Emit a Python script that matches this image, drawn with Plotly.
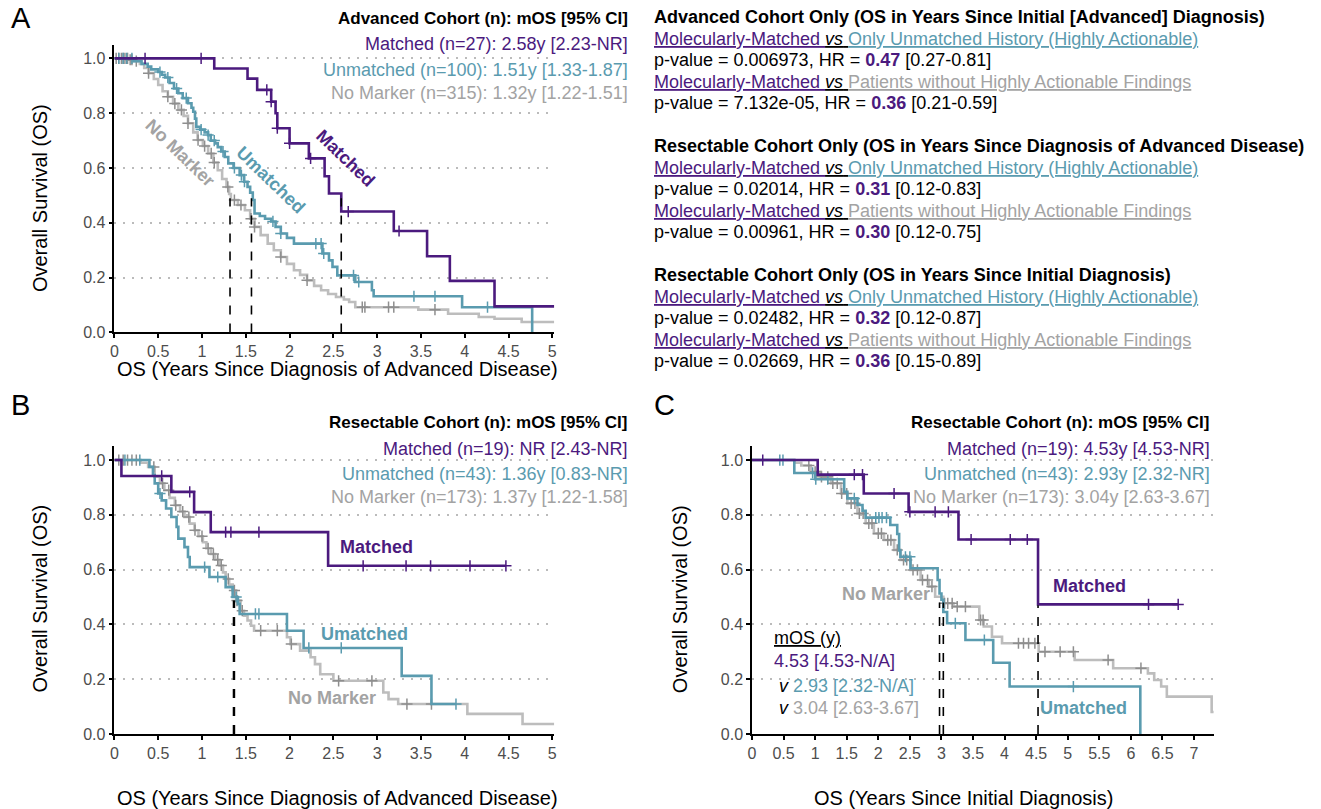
import numpy as np
import plotly.graph_objects as go

W, H = 1321, 809
H_EFF = 799  # rendered height of the paper as observed in the photographed page
PURPLE = "#4B1A7E"
TEAL = "#5A9BAF"
GRAY = "#BDBDBD"
GRAYC = "#8E8E8E"
GRAYT = "#A3A3A3"
FONT = "Liberation Sans Narrow, Arial Narrow, Liberation Sans, Arial, sans-serif"

# ---------------- Panel A (advanced cohort, years since advanced diagnosis) -------------
A_matched_t = [0, 1.14, 1.52, 1.63, 1.79, 1.84, 1.86, 2.00, 2.22, 2.40, 2.45, 2.59, 3.19, 3.57, 3.83, 4.34]
A_matched_s = [1.0, 0.963, 0.926, 0.885, 0.842, 0.80, 0.745, 0.69, 0.635, 0.57, 0.507, 0.441, 0.37, 0.278, 0.188, 0.095]
A_matched_end = 5.2
A_matched_cens = [0.35, 0.99, 1.74, 1.79, 1.86, 2.00, 2.24, 2.67, 3.25]

A_unm_t = [0, 0.22, 0.31, 0.38, 0.42, 0.50, 0.54, 0.58, 0.63, 0.68, 0.73, 0.78, 0.84, 0.88, 0.90, 0.92, 0.935,
           0.98, 1.03, 1.07, 1.10, 1.15, 1.18, 1.22, 1.26, 1.30, 1.36, 1.43, 1.48, 1.52, 1.55, 1.58, 1.60, 1.66,
           1.72, 1.79, 1.84, 1.90, 1.97, 2.05, 2.375, 2.45, 2.49, 2.545, 2.75, 2.94, 2.96, 3.97, 4.77]
A_unm_s = [1.0, 0.99, 0.98, 0.97, 0.96, 0.95, 0.94, 0.93, 0.91, 0.89, 0.873, 0.855, 0.836, 0.82, 0.805, 0.78, 0.75,
           0.74, 0.73, 0.72, 0.70, 0.69, 0.676, 0.66, 0.64, 0.617, 0.60, 0.574, 0.55, 0.531, 0.51, 0.483, 0.434, 0.425,
           0.415, 0.405, 0.385, 0.361, 0.345, 0.324, 0.288, 0.263, 0.239, 0.208, 0.184, 0.154, 0.132, 0.092, 0.0]
A_unm_end = 4.77
A_unm_cens = [0.05, 0.1, 0.14, 0.2, 0.52, 0.61, 0.71, 0.82, 0.99, 1.07, 1.14, 1.24, 1.37, 1.45, 1.485, 1.81, 1.90,
              2.30, 2.36, 2.39, 2.73, 2.79, 3.42, 3.66, 4.26]

A_nm_t = [0, 0.16, 0.22, 0.29, 0.34, 0.39, 0.45, 0.50, 0.55, 0.61, 0.67, 0.73, 0.79, 0.84, 0.90, 0.95, 1.01, 1.07,
          1.13, 1.18, 1.23, 1.28, 1.31, 1.33, 1.41, 1.49, 1.55, 1.60, 1.67, 1.75, 1.82, 1.90, 1.97, 2.05, 2.12, 2.20,
          2.28, 2.36, 2.44, 2.53, 2.62, 2.68, 2.75, 3.47, 3.81, 4.16, 4.34, 4.65]
A_nm_s = [1.0, 0.995, 0.99, 0.98, 0.965, 0.946, 0.925, 0.903, 0.88, 0.86, 0.835, 0.812, 0.79, 0.763, 0.73, 0.702,
          0.68, 0.653, 0.62, 0.592, 0.56, 0.531, 0.505, 0.483, 0.465, 0.446, 0.415, 0.385, 0.355, 0.324, 0.30, 0.275,
          0.25, 0.227, 0.21, 0.19, 0.17, 0.154, 0.14, 0.129, 0.12, 0.111, 0.092, 0.083, 0.068, 0.056, 0.05, 0.038]
A_nm_end = 5.2
A_nm_cens = [0.02, 0.05, 0.08, 0.1, 0.12, 0.15, 0.18, 0.2, 0.25, 0.39, 0.61, 0.69, 0.765, 0.84, 0.955, 1.03, 1.105,
             1.14, 1.295, 1.37, 1.445, 1.56, 1.60, 1.90, 2.20, 2.83, 2.86, 3.13, 3.19, 3.66]
A_medians = [2.59, 1.565, 1.32]

# ---------------- Panel B (resectable cohort, years since advanced diagnosis) -------------
B_matched_t = [0, 0.08, 0.65, 0.91, 1.10, 2.44]
B_matched_s = [1.0, 0.942, 0.884, 0.81, 0.737, 0.614]
B_matched_end = 4.47
B_matched_cens = [0.54, 0.86, 1.27, 1.33, 1.65, 2.84, 3.33, 3.61, 4.06, 4.47]

B_unm_t = [0, 0.40, 0.44, 0.46, 0.50, 0.54, 0.59, 0.65, 0.71, 0.73, 0.80, 0.84, 0.86, 1.085, 1.27, 1.35, 1.41,
           1.43, 1.97, 2.16, 3.28, 3.62]
B_unm_s = [1.0, 0.975, 0.945, 0.915, 0.878, 0.853, 0.823, 0.792, 0.756, 0.713, 0.682, 0.646, 0.609, 0.573, 0.536,
           0.50, 0.475, 0.438, 0.377, 0.314, 0.212, 0.109]
B_unm_end = 3.90
B_unm_cens = [0.12, 0.29, 0.52, 1.03, 1.18, 1.39, 1.61, 1.65, 2.22, 2.59, 3.90]

B_nm_t = [0, 0.30, 0.385, 0.46, 0.52, 0.57, 0.63, 0.69, 0.75, 0.80, 0.86, 0.915, 0.96, 1.01, 1.05, 1.10, 1.15,
          1.20, 1.24, 1.27, 1.31, 1.35, 1.39, 1.44, 1.48, 1.52, 1.56, 1.595, 1.97, 2.01, 2.12, 2.24, 2.29, 2.35,
          2.50, 3.07, 3.13, 3.24, 4.03, 4.66]
B_nm_s = [1.0, 0.99, 0.975, 0.939, 0.915, 0.89, 0.862, 0.835, 0.812, 0.792, 0.768, 0.744, 0.722, 0.70, 0.678,
          0.657, 0.636, 0.615, 0.59, 0.566, 0.545, 0.524, 0.487, 0.45, 0.432, 0.414, 0.395, 0.377, 0.353, 0.328,
          0.304, 0.28, 0.255, 0.218, 0.194, 0.151, 0.127, 0.109, 0.073, 0.036]
B_nm_end = 5.2
B_nm_cens = [0.05, 0.1, 0.15, 0.2, 0.25, 0.45, 0.55, 0.62, 0.70, 0.78, 0.85, 0.92, 1.0, 1.07, 1.13, 1.18, 1.22,
             1.30, 1.37, 1.40, 1.46, 1.67, 1.86, 2.02, 2.56, 2.94, 3.34, 3.62]
B_medians = [1.36, 1.37]

# ---------------- Panel C (resectable cohort, years since initial diagnosis) -------------
C_matched_t = [0, 1.04, 1.77, 2.48, 3.27, 4.53]
C_matched_s = [1.0, 0.947, 0.878, 0.811, 0.71, 0.473]
C_matched_end = 6.75
C_matched_cens = [0.17, 1.62, 1.75, 2.25, 2.50, 2.90, 3.11, 3.47, 4.09, 4.36, 6.28, 6.75]

C_unm_t = [0, 0.67, 1.0, 1.46, 1.51, 1.67, 1.75, 1.80, 2.19, 2.30, 2.33, 2.35, 2.51, 2.94, 2.97, 3.0, 3.03, 3.09,
           3.38, 3.82, 4.08, 6.15]
C_unm_s = [1.0, 0.953, 0.93, 0.884, 0.86, 0.836, 0.815, 0.79, 0.763, 0.73, 0.67, 0.647, 0.605, 0.562, 0.513, 0.49,
           0.445, 0.404, 0.343, 0.26, 0.173, 0.0]
C_unm_end = 6.15
C_unm_cens = [0.44, 0.49, 0.96, 1.01, 1.20, 1.62, 1.96, 2.01, 2.06, 2.13, 2.43, 2.50, 3.22, 3.68, 5.09]

C_nm_t = [0, 0.67, 0.78, 0.93, 1.09, 1.25, 1.41, 1.51, 1.67, 1.80, 1.93, 2.09, 2.25, 2.35, 2.51, 2.67, 2.80, 2.90,
          3.03, 3.19, 3.60, 3.67, 3.80, 3.96, 4.54, 5.11, 5.72, 6.27, 6.37, 6.48, 6.57, 7.28]
C_nm_s = [1.0, 0.99, 0.98, 0.957, 0.939, 0.915, 0.878, 0.842, 0.805, 0.769, 0.732, 0.708, 0.672, 0.635, 0.599,
          0.562, 0.538, 0.501, 0.477, 0.465, 0.416, 0.392, 0.355, 0.331, 0.30, 0.27, 0.24, 0.221, 0.197, 0.173,
          0.136, 0.08]
C_nm_end = 7.4
C_nm_cens = [0.9, 1.0, 1.1, 1.2, 1.28, 1.35, 1.42, 1.5, 1.57, 1.63, 1.7, 1.76, 1.85, 1.9, 2.0, 2.05, 2.15, 2.2,
             2.3, 2.4, 2.45, 2.55, 2.62, 2.7, 2.78, 2.85, 3.05, 3.1, 3.17, 3.25, 3.38, 3.62, 3.66, 4.22, 4.30, 4.38,
             4.48, 4.64, 4.88, 5.09, 5.64, 6.16]
C_medians = [2.97, 3.03, 4.53]

# ---------------- text ----------------
A_header = ["<b>Advanced Cohort (n): mOS [95% CI]</b>", "Matched (n=27): 2.58y [2.23-NR]",
            "Unmatched (n=100): 1.51y [1.33-1.87]", "No Marker (n=315): 1.32y [1.22-1.51]"]
B_header = ["<b>Resectable Cohort (n): mOS [95% CI]</b>", "Matched (n=19): NR [2.43-NR]",
            "Unmatched (n=43): 1.36y [0.83-NR]", "No Marker (n=173): 1.37y [1.22-1.58]"]
C_header = ["<b>Resectable Cohort (n): mOS [95% CI]</b>", "Matched (n=19): 4.53y [4.53-NR]",
            "Unmatched (n=43): 2.93y [2.32-NR]", "No Marker (n=173): 3.04y [2.63-3.67]"]
comp_titles = ["Advanced Cohort Only (OS in Years Since Initial [Advanced] Diagnosis)",
               "Resectable Cohort Only (OS in Years Since Diagnosis of Advanced Disease)",
               "Resectable Cohort Only (OS in Years Since Initial Diagnosis)"]
comp_pvals = [["0.006973", "7.132e-05"], ["0.02014", "0.00961"], ["0.02482", "0.02669"]]
comp_hr = [["0.47", "0.36"], ["0.31", "0.30"], ["0.32", "0.36"]]
comp_ci = [["[0.27-0.81]", "[0.21-0.59]"], ["[0.12-0.83]", "[0.12-0.75]"], ["[0.12-0.87]", "[0.15-0.89]"]]

fig = go.Figure()


def px(x):
    return x / W


def py(y):
    return 1 - y / H_EFF


def step_xy(t, s, end):
    return list(t) + [end], list(s) + [s[-1]]


def cens_y(t, s, c):
    idx = np.searchsorted(np.array(t), np.array(c), side="right") - 1
    return [s[i] for i in idx]


def add_km(t, s, end, cens, color, mcolor, ax):
    xs, ys = step_xy(t, s, end)
    fig.add_trace(go.Scatter(x=xs, y=ys, mode="lines", line=dict(color=color, width=2.6, shape="hv"),
                             xaxis="x" + ax, yaxis="y" + ax, showlegend=False, hoverinfo="skip"))
    fig.add_trace(go.Scatter(x=cens, y=cens_y(t, s, cens), mode="markers",
                             marker=dict(symbol="cross-thin", size=8, line=dict(color=mcolor, width=1.5)),
                             xaxis="x" + ax, yaxis="y" + ax, showlegend=False, hoverinfo="skip"))


def add_medians(meds, ax, top=0.49):
    for m in meds:
        fig.add_trace(go.Scatter(x=[m, m], y=[0, top], mode="lines",
                                 line=dict(color="black", width=1.6, dash="dash"),
                                 xaxis="x" + ax, yaxis="y" + ax, showlegend=False, hoverinfo="skip"))


# Panel A
add_km(A_nm_t, A_nm_s, A_nm_end, A_nm_cens, GRAY, GRAYC, "")
add_km(A_unm_t, A_unm_s, A_unm_end, A_unm_cens, TEAL, TEAL, "")
add_km(A_matched_t, A_matched_s, A_matched_end, A_matched_cens, PURPLE, PURPLE, "")
add_medians(A_medians, "")
# Panel B
add_km(B_nm_t, B_nm_s, B_nm_end, B_nm_cens, GRAY, GRAYC, "2")
add_km(B_unm_t, B_unm_s, B_unm_end, B_unm_cens, TEAL, TEAL, "2")
add_km(B_matched_t, B_matched_s, B_matched_end, B_matched_cens, PURPLE, PURPLE, "2")
add_medians(B_medians, "2", 0.487)
# Panel C
add_km(C_nm_t, C_nm_s, C_nm_end, C_nm_cens, GRAY, GRAYC, "3")
add_km(C_unm_t, C_unm_s, C_unm_end, C_unm_cens, TEAL, TEAL, "3")
add_km(C_matched_t, C_matched_s, C_matched_end, C_matched_cens, PURPLE, PURPLE, "3")
add_medians(C_medians[:2], "3", 0.48)
add_medians(C_medians[2:], "3", 0.47)

axis_common = dict(showline=True, linecolor="black", linewidth=1.5, ticks="outside", ticklen=4,
                   tickcolor="black", tickwidth=1.5, zeroline=False,
                   tickfont=dict(family=FONT, size=16, color="#4D4D4D"))
xcommon = dict(axis_common, showgrid=False, tick0=0, dtick=0.5)
ycommon = dict(axis_common, showgrid=True, gridcolor="#BBBBBB", griddash="2px,7px", gridwidth=2,
               tickvals=[0, 0.2, 0.4, 0.6, 0.8, 1.0], tickformat=".1f", range=[0, 1.05])

fig.update_layout(
    width=W, height=H, margin=dict(l=0, r=0, t=0, b=0),
    plot_bgcolor="white", paper_bgcolor="white", showlegend=False,
    xaxis=dict(xcommon, domain=[px(111), px(553)], range=[0, 5.02], anchor="y"),
    yaxis=dict(ycommon, domain=[py(332), py(332 - 1.05 * 273.7)], anchor="x"),
    xaxis2=dict(xcommon, domain=[px(111), px(553)], range=[0, 5.02], anchor="y2"),
    yaxis2=dict(ycommon, domain=[py(733), py(733 - 1.05 * 273.5)], anchor="x2"),
    xaxis3=dict(xcommon, domain=[px(752), px(1216)], range=[0, 7.31], anchor="y3"),
    yaxis3=dict(ycommon, domain=[py(733), py(733 - 1.05 * 273.5)], anchor="x3"),
)

ann = []


def text(x, y, s, size=18, color="black", xanchor="left", angle=0, family=FONT, yanchor="middle"):
    ann.append(dict(x=px(x), y=py(y), xref="paper", yref="paper", text=s, showarrow=False,
                    xanchor=xanchor, yanchor=yanchor, textangle=angle, borderpad=0,
                    font=dict(family=family, size=size, color=color)))


# panel letters
text(6, 18, "A", 29, family="Liberation Sans, Arial, sans-serif")
text(6, 404, "B", 29, family="Liberation Sans, Arial, sans-serif")
text(652, 404, "C", 29, family="Liberation Sans, Arial, sans-serif")

# headers
for hdr, xr, ys in [(A_header, 628, [18, 44, 70, 93]), (B_header, 628, [422, 448, 473, 496]),
                    (C_header, 1213, [422, 448, 473, 496])]:
    for k, (s, y, c) in enumerate(zip(hdr, ys, ["black", PURPLE, TEAL, GRAYT])):
        text(xr, y, s, 17 if k == 0 else 18, c, xanchor="right")

# comparisons block
line_m = ("<span style='color:%s'><u>Molecularly-Matched </u></span><u><i>vs</i> </u>" % PURPLE)
lines_vs = [line_m + "<span style='color:%s'><u>Only Unmatched History (Highly Actionable)</u></span>" % TEAL,
            line_m + "<span style='color:%s'><u>Patients without Highly Actionable Findings</u></span>" % GRAYT]
for k, y0 in enumerate([17, 146, 275]):
    text(652, y0, "<b>" + comp_titles[k] + "</b>", 18)
    for j in range(2):
        text(652, y0 + 21.5 + 43 * j, lines_vs[j], 18)
        text(652, y0 + 43 + 43 * j,
             "p-value = %s, HR = <b><span style='color:%s'>%s</span></b> %s"
             % (comp_pvals[k][j], PURPLE, comp_hr[k][j], comp_ci[k][j]), 18)

# axis titles
text(335, 369, "OS (Years Since Diagnosis of Advanced Disease)", 20, xanchor="center")
text(335, 797, "OS (Years Since Diagnosis of Advanced Disease)", 20, xanchor="center")
text(965, 797, "OS (Years Since Initial Diagnosis)", 20, xanchor="center")
text(36, 198, "Overall Survival (OS)", 20, xanchor="center", angle=-90)
text(36, 598, "Overall Survival (OS)", 20, xanchor="center", angle=-90)
text(679, 598, "Overall Survival (OS)", 20, xanchor="center", angle=-90)

# curve labels
text(343, 158, "<b>Matched</b>", 18, PURPLE, xanchor="center", angle=44)
text(268, 180, "<b>Umatched</b>", 18, TEAL, xanchor="center", angle=44)
text(177, 153, "<b>No Marker</b>", 18, GRAYT, xanchor="center", angle=44)
text(374, 546, "<b>Matched</b>", 18, PURPLE, xanchor="center")
text(362, 633, "<b>Umatched</b>", 18, TEAL, xanchor="center")
text(330, 697, "<b>No Marker</b>", 18, GRAYT, xanchor="center")
text(1091, 585, "<b>Matched</b>", 18, PURPLE, xanchor="center")
text(1085, 707, "<b>Umatched</b>", 18, TEAL, xanchor="center")
text(887, 593, "<b>No Marker</b>", 18, GRAYT, xanchor="center")

# mOS box in C
text(773, 637, "<u>mOS (y)</u>", 18)
text(773, 660, "4.53 [4.53-N/A]", 18, PURPLE)
text(778, 685, "<i>v</i> <span style='color:%s'>2.93 [2.32-N/A]</span>" % TEAL, 18)
text(778, 707, "<i>v</i> <span style='color:%s'>3.04 [2.63-3.67]</span>" % GRAYT, 18)

fig.update_layout(annotations=ann)
fig.write_html("out.html", config={"displayModeBar": False},
               post_script="document.body.style.margin='0';document.body.style.overflow='hidden';")
